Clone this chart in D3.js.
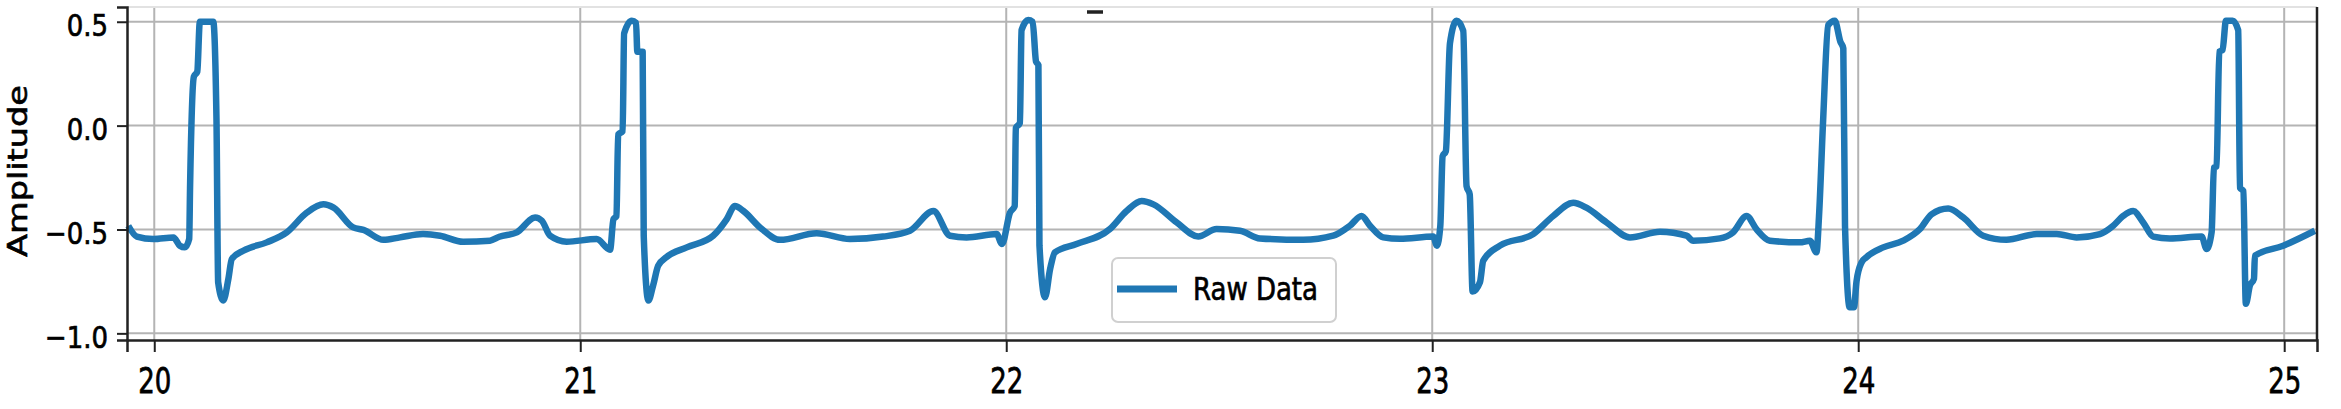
<!DOCTYPE html>
<html>
<head>
<meta charset="utf-8">
<script src="https://cdn.jsdelivr.net/npm/d3@7"></script>
<style>
  body { margin: 0; background: #fff; }
  text { font-family: "DejaVu Sans", sans-serif; fill: #000; stroke: #000; stroke-width: 0.6px; }
</style>
</head>
<body>
<div id="chart"></div>
<script>
// ECG trace (seconds, amplitude)
var timeSec = [
  19.939, 19.959, 19.998, 20.045, 20.060, 20.072, 20.082, 20.084, 20.093, 20.101,
  20.107, 20.1385, 20.146, 20.150, 20.162, 20.174, 20.182, 20.209, 20.264, 20.311,
  20.358, 20.397, 20.421, 20.467, 20.491, 20.538, 20.577, 20.631, 20.671, 20.725,
  20.788, 20.810, 20.851, 20.894, 20.910, 20.929, 20.968, 21.0385, 21.070, 21.078,
  21.085, 21.089, 21.0995, 21.103, 21.121, 21.131, 21.134, 21.1465, 21.149, 21.160,
  21.171, 21.183, 21.202, 21.250, 21.312, 21.344, 21.363, 21.383, 21.422, 21.469,
  21.555, 21.633, 21.711, 21.774, 21.829, 21.868, 21.907, 21.9775, 21.990, 22.0087,
  22.020, 22.0225, 22.032, 22.036, 22.0516, 22.062, 22.070, 22.0755, 22.078, 22.091,
  22.103, 22.1143, 22.165, 22.2434, 22.2825, 22.318, 22.3455, 22.400, 22.4507, 22.4937,
  22.5486, 22.5955, 22.697, 22.7676, 22.8067, 22.834, 22.854, 22.885, 22.924, 23.0023,
  23.011, 23.019, 23.0244, 23.032, 23.0416, 23.057, 23.0728, 23.0806, 23.088, 23.0948,
  23.112, 23.1198, 23.159, 23.237, 23.284, 23.331, 23.362, 23.409, 23.464, 23.5345,
  23.597, 23.6126, 23.675, 23.706, 23.738, 23.761, 23.7927, 23.863, 23.8866, 23.902,
  23.908, 23.9177, 23.9296, 23.945, 23.958, 23.965, 23.969, 23.980, 23.990, 23.996,
  24.008, 24.019, 24.0587, 24.1056, 24.145, 24.172, 24.2113, 24.2465, 24.2934, 24.348,
  24.419, 24.466, 24.5127, 24.5675, 24.5986, 24.622, 24.6455, 24.669, 24.6925, 24.7316,
  24.806, 24.818, 24.8296, 24.835, 24.8413, 24.8476, 24.8554, 24.8632, 24.879, 24.892,
  24.8962, 24.904, 24.910, 24.9195, 24.929, 24.9312, 24.9977, 25.072
];
var amplitude = [
  -0.482, -0.534, -0.546, -0.538, -0.578, -0.586, -0.546, -0.300, 0.236, 0.260,
  0.500, 0.500, 0.037, -0.754, -0.842, -0.738, -0.642, -0.602, -0.562, -0.514,
  -0.419, -0.379, -0.395, -0.490, -0.502, -0.550, -0.538, -0.522, -0.530, -0.559,
  -0.554, -0.535, -0.514, -0.442, -0.458, -0.530, -0.559, -0.546, -0.597, -0.450,
  -0.435, -0.043, -0.027, 0.444, 0.505, 0.495, 0.356, 0.356, -0.530, -0.842,
  -0.770, -0.674, -0.634, -0.586, -0.530, -0.450, -0.387, -0.411, -0.490, -0.550,
  -0.518, -0.546, -0.534, -0.506, -0.411, -0.530, -0.538, -0.522, -0.570, -0.419,
  -0.387, -0.011, 0.013, 0.460, 0.508, 0.500, 0.308, 0.292, -0.578, -0.826,
  -0.690, -0.610, -0.570, -0.498, -0.411, -0.363, -0.379, -0.466, -0.534, -0.498,
  -0.506, -0.543, -0.550, -0.530, -0.482, -0.435, -0.482, -0.538, -0.545, -0.534,
  -0.578, -0.482, -0.147, -0.123, 0.396, 0.505, 0.457, -0.291, -0.331, -0.799,
  -0.754, -0.650, -0.578, -0.522, -0.435, -0.371, -0.395, -0.466, -0.538, -0.511,
  -0.530, -0.554, -0.543, -0.514, -0.435, -0.498, -0.554, -0.562, -0.554, -0.610,
  -0.435, 0.029, 0.484, 0.505, 0.404, 0.372, -0.482, -0.874, -0.874, -0.750,
  -0.658, -0.634, -0.586, -0.554, -0.498, -0.427, -0.399, -0.442, -0.530, -0.550,
  -0.522, -0.522, -0.538, -0.522, -0.482, -0.435, -0.411, -0.466, -0.534, -0.543,
  -0.534, -0.594, -0.514, -0.203, -0.195, 0.356, 0.364, 0.505, 0.505, 0.460,
  -0.299, -0.315, -0.858, -0.770, -0.738, -0.626, -0.578, -0.506
];
var xTicks = [20, 21, 22, 23, 24, 25];
var yTicks = [-1.0, -0.5, 0.0, 0.5];
var seriesName = 'Raw Data';
var yLabel = 'Amplitude';

var width = 2341, height = 409;
var margin = {top: 7, right: 24, bottom: 69, left: 127};

var svg = d3.select('#chart').append('svg')
  .attr('width', width)
  .attr('height', height);

var x = d3.scaleLinear()
  .domain([19.936, 25.077])
  .range([margin.left, width - margin.right]);

var y = d3.scaleLinear()
  .domain([-1.032, 0.571])
  .range([height - margin.bottom, margin.top]);

var points = timeSec.map(function(t, i) { return {t: t, v: amplitude[i]}; });

// grid
svg.append('g').selectAll('line').data(xTicks).enter().append('line')
  .attr('x1', function(d) { return x(d); })
  .attr('x2', function(d) { return x(d); })
  .attr('y1', y.range()[1])
  .attr('y2', y.range()[0])
  .style('stroke', '#b4b4b4')
  .style('stroke-width', '2px');

svg.append('g').selectAll('line').data(yTicks).enter().append('line')
  .attr('x1', x.range()[0])
  .attr('x2', x.range()[1])
  .attr('y1', function(d) { return y(d); })
  .attr('y2', function(d) { return y(d); })
  .style('stroke', '#b4b4b4')
  .style('stroke-width', '2px');

// the trace
var line = d3.line()
  .curve(d3.curveMonotoneX)
  .x(function(d) { return x(d.t); })
  .y(function(d) { return y(d.v); });

svg.append('path')
  .datum(points)
  .attr('d', line)
  .style('fill', 'none')
  .style('stroke', '#1f77b4')
  .style('stroke-width', '6.5px')
  .style('stroke-linejoin', 'round')
  .style('stroke-linecap', 'butt');

// spines
svg.append('line')
  .attr('x1', x.range()[0]).attr('x2', x.range()[1])
  .attr('y1', y.range()[1]).attr('y2', y.range()[1])
  .style('stroke', '#e2e2e2').style('stroke-width', '2px');
svg.append('line')
  .attr('x1', x.range()[1]).attr('x2', x.range()[1])
  .attr('y1', y.range()[1]).attr('y2', y.range()[0])
  .style('stroke', '#222').style('stroke-width', '2.5px');

// axes
var xAxis = svg.append('g')
  .attr('transform', 'translate(0,' + y.range()[0] + ')')
  .call(d3.axisBottom(x).tickValues(xTicks).tickSize(12).tickFormat(d3.format('d')));

var yAxis = svg.append('g')
  .attr('transform', 'translate(' + x.range()[0] + ',0)')
  .call(d3.axisLeft(y).tickValues(yTicks).tickSize(10).tickPadding(9).tickFormat(d3.format('.1f')));

[xAxis, yAxis].forEach(function(ax) {
  ax.select('.domain')
    .style('stroke', '#222')
    .style('stroke-width', '2.5px');
  ax.selectAll('.tick line')
    .style('stroke', '#222')
    .style('stroke-width', '2px');
  ax.selectAll('.tick text')
    .style('font-size', '26px')
    .style('font-family', '"DejaVu Sans", sans-serif')
    .style('fill', '#000');
});

// the source picture is stretched vertically, so text gets a y-scale
xAxis.selectAll('.tick text')
  .attr('y', 39)
  .attr('dy', null)
  .attr('transform', 'scale(1,1.35)');

yAxis.selectAll('.tick text')
  .attr('dy', '0.45em')
  .attr('transform', 'scale(1,1.18)');

// y label
svg.append('text')
  .text(yLabel)
  .attr('text-anchor', 'middle')
  .attr('transform', 'translate(27,171) rotate(-90) scale(1.29,1)')
  .style('font-size', '26px');

// title remnant cut at the top edge
svg.append('line')
  .attr('x1', 1087).attr('x2', 1103)
  .attr('y1', 12).attr('y2', 12)
  .style('stroke', '#222').style('stroke-width', '3.5px');

// legend
var legend = svg.append('g').attr('transform', 'translate(1112,258)');
legend.append('rect')
  .attr('width', 224).attr('height', 64)
  .attr('rx', 6)
  .style('fill', '#fff')
  .style('fill-opacity', 0.85)
  .style('stroke', '#d0d0d0')
  .style('stroke-width', '2px');
legend.append('line')
  .attr('x1', 5).attr('x2', 65)
  .attr('y1', 31).attr('y2', 31)
  .style('stroke', '#1f77b4')
  .style('stroke-width', '7px');
legend.append('text')
  .text(seriesName)
  .attr('transform', 'translate(81,42) scale(1,1.23)')
  .style('font-size', '26px');
</script>
</body>
</html>
